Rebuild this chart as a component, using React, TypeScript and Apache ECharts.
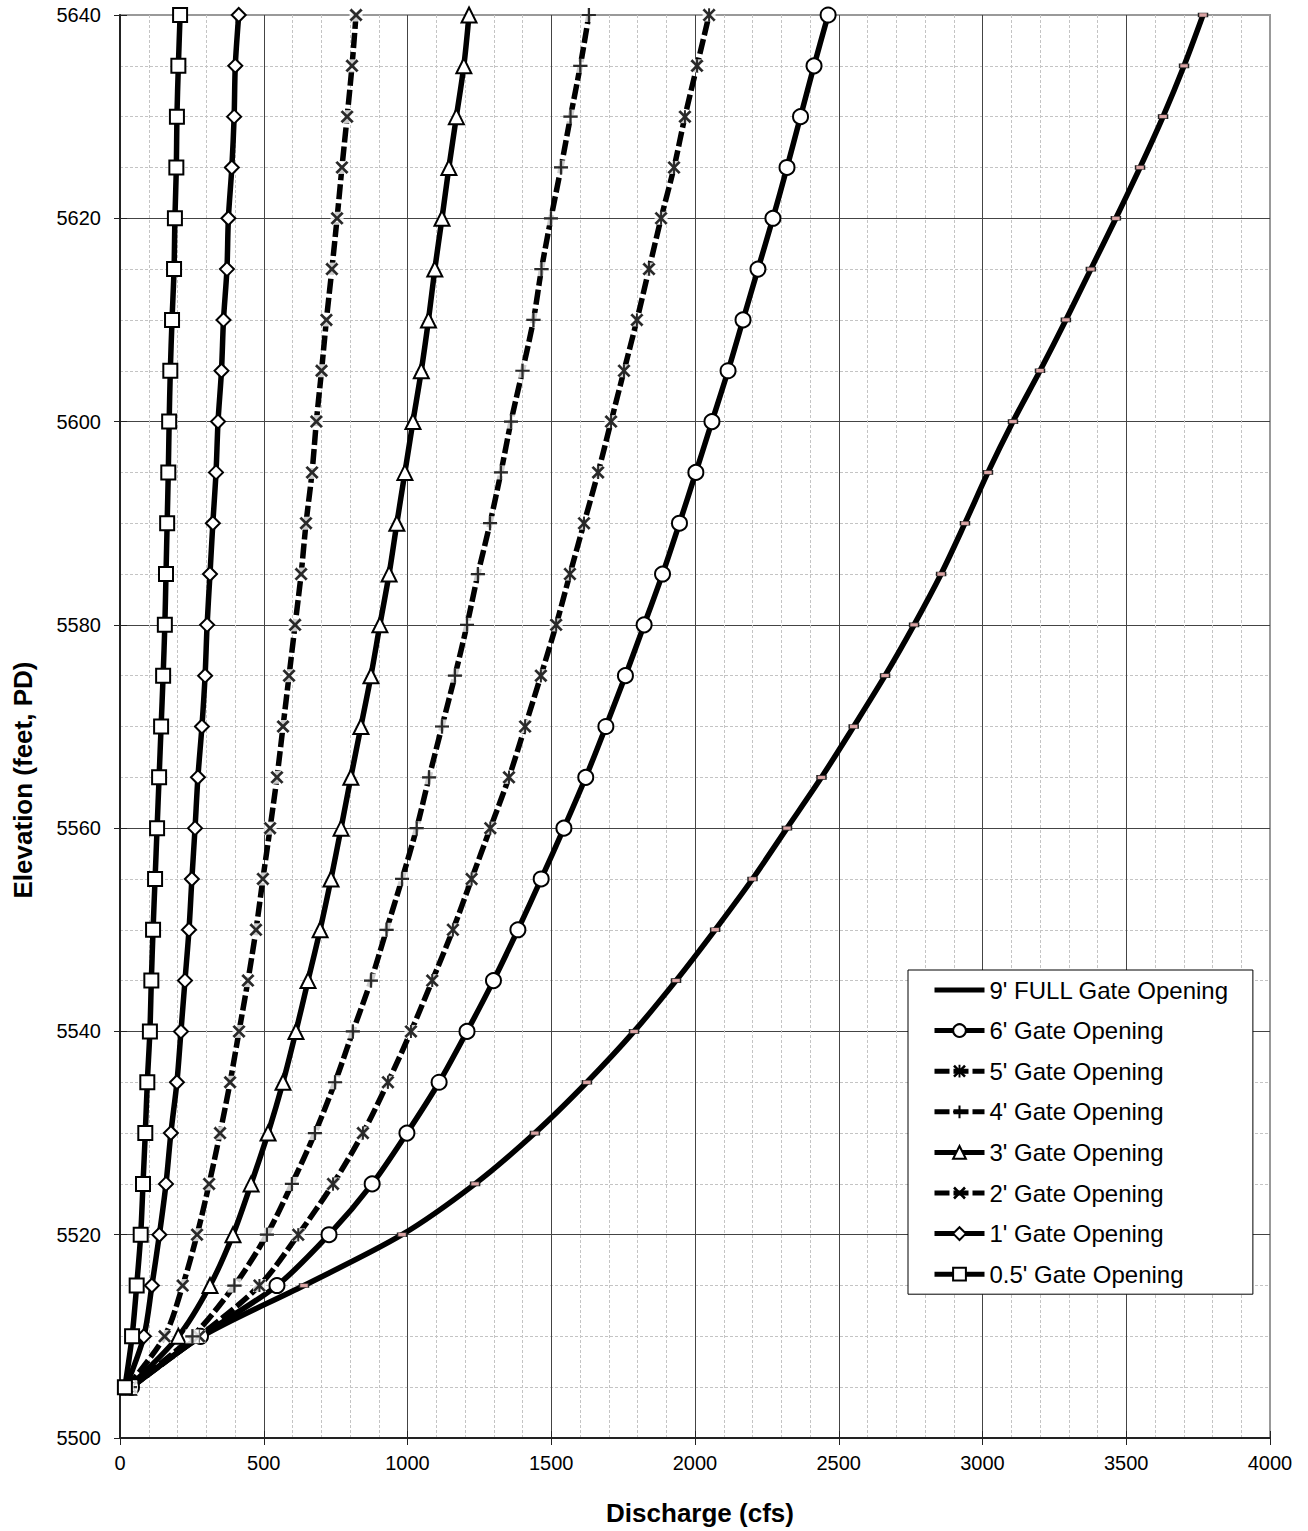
import React, { useEffect, useRef } from "react";
import * as echarts from "echarts";

// Elevation (feet, PD) for each reading
const ELEV = [5505, 5510, 5515, 5520, 5525, 5530, 5535, 5540, 5545, 5550, 5555, 5560, 5565, 5570, 5575, 5580, 5585, 5590, 5595, 5600, 5605, 5610, 5615, 5620, 5625, 5630, 5635, 5640];

// Discharge (cfs) per gate opening, matching ELEV
const Q_9FT = [40, 285, 640, 981, 1235, 1443, 1624, 1788, 1934, 2070, 2200, 2320, 2440, 2552, 2661, 2762, 2856, 2939, 3019, 3106, 3200, 3290, 3377, 3464, 3548, 3628, 3701, 3767];
const Q_6FT = [40, 280, 546, 727, 877, 998, 1110, 1207, 1299, 1384, 1465, 1544, 1620, 1690, 1758, 1823, 1887, 1946, 2003, 2059, 2115, 2167, 2219, 2271, 2320, 2367, 2414, 2463];
const Q_5FT = [38, 275, 485, 620, 741, 845, 932, 1012, 1086, 1158, 1223, 1288, 1353, 1409, 1464, 1517, 1565, 1614, 1663, 1708, 1753, 1798, 1840, 1882, 1927, 1965, 2007, 2049];
const Q_4FT = [35, 252, 398, 511, 598, 678, 748, 810, 873, 927, 981, 1032, 1075, 1120, 1165, 1207, 1245, 1287, 1325, 1360, 1400, 1438, 1466, 1499, 1534, 1567, 1601, 1631];
const Q_3FT = [30, 203, 313, 393, 456, 515, 567, 612, 654, 696, 734, 769, 803, 838, 873, 904, 936, 963, 991, 1019, 1048, 1073, 1095, 1120, 1144, 1170, 1196, 1214];
const Q_2FT = [25, 155, 218, 268, 310, 348, 383, 414, 445, 473, 497, 522, 546, 567, 588, 609, 630, 647, 668, 683, 701, 718, 737, 755, 772, 790, 807, 821];
const Q_1FT = [20, 83, 111, 137, 160, 177, 198, 212, 226, 240, 250, 261, 271, 285, 296, 303, 313, 323, 334, 341, 353, 360, 372, 377, 389, 397, 401, 413];
const Q_05FT = [17, 42, 58, 72, 80, 88, 95, 104, 109, 115, 122, 129, 136, 143, 150, 156, 160, 164, 168, 171, 175, 181, 188, 191, 196, 198, 203, 209];

const SERIES_NAMES = [
  "9' FULL Gate Opening",
  "6' Gate Opening",
  "5' Gate Opening",
  "4' Gate Opening",
  "3' Gate Opening",
  "2' Gate Opening",
  "1' Gate Opening",
  "0.5' Gate Opening",
];

const X_MAX = 4000;
const Y_MIN = 5500;
const Y_MAX = 5640;

const FONT = '"Liberation Sans", Arial, Helvetica, sans-serif';

const X_PATH =
  "path://M0,2.9L2.9,0L10,7.1L17.1,0L20,2.9L12.9,10L20,17.1L17.1,20L10,12.9L2.9,20L0,17.1L7.1,10Z";
const PLUS_PATH =
  "path://M8.4,0L11.6,0L11.6,8.4L20,8.4L20,11.6L11.6,11.6L11.6,20L8.4,20L8.4,11.6L0,11.6L0,8.4L8.4,8.4Z";
const STAR_PATH =
  "path://M0,2.8L2.8,0L10,7.2L17.2,0L20,2.8L12.8,10L20,17.2L17.2,20L10,12.8L2.8,20L0,17.2L7.2,10Z M8.5,0L11.5,0L11.5,20L8.5,20Z";

function pairs(q: number[]) {
  return q.map((v, i) => [v, ELEV[i]]);
}

const openStyle = { color: "#fff", borderColor: "#000", borderWidth: 2 };
const solidStyle = { color: "#000", borderWidth: 0 };

function mk(name: string, q: number[], symbol: any, size: any, dashed: boolean, itemStyle: any, z = 2) {
  return {
    type: "line",
    name,
    z,
    data: pairs(q),
    symbol,
    symbolSize: size,
    showAllSymbol: true,
    smooth: 0.3,
    clip: false,
    lineStyle: { color: "#000", width: 5.5, type: dashed ? [15, 4] : "solid" },
    itemStyle,
    emphasis: { disabled: true },
  };
}

// white marker background + black glyph drawn over a line's own markers (Excel-style)
function halo(q: number[], symbol: string, size: number) {
  return [
    {
      type: "scatter",
      z: 3,
      data: pairs(q),
      symbol: "rect",
      symbolSize: size,
      clip: false,
      silent: true,
      itemStyle: { color: "#fff", borderWidth: 0 },
      emphasis: { disabled: true },
    },
    {
      type: "scatter",
      z: 3,
      data: pairs(q),
      symbol,
      symbolSize: size,
      clip: false,
      silent: true,
      itemStyle: { color: "#000", borderWidth: 0 },
      emphasis: { disabled: true },
    },
  ];
}

export default function App() {
  const ref = useRef<HTMLDivElement>(null);

  useEffect(() => {
    document.body.style.margin = "0";
    if (!ref.current) return;
    const chart = echarts.init(ref.current, null, { renderer: "svg" });

    const series = [
      mk(SERIES_NAMES[0], Q_9FT, "rect", [9, 4], false, { color: "#d9a3a3", borderColor: "#222", borderWidth: 1 }),
      mk(SERIES_NAMES[1], Q_6FT, "circle", 15, false, openStyle),
      mk(SERIES_NAMES[2], Q_5FT, STAR_PATH, 13, true, solidStyle),
      ...halo(Q_5FT, STAR_PATH, 13),
      mk(SERIES_NAMES[3], Q_4FT, PLUS_PATH, 14, true, solidStyle),
      ...halo(Q_4FT, PLUS_PATH, 14),
      mk(SERIES_NAMES[4], Q_3FT, "triangle", 15, false, openStyle),
      mk(SERIES_NAMES[5], Q_2FT, X_PATH, 13, true, solidStyle),
      ...halo(Q_2FT, X_PATH, 13),
      mk(SERIES_NAMES[6], Q_1FT, "diamond", 14, false, openStyle),
      mk(SERIES_NAMES[7], Q_05FT, "rect", 14, false, openStyle, 4),
    ];

    const plain = (v: number) => String(v);

    const option: any = {
      animation: false,
      backgroundColor: "#fff",
      textStyle: { fontFamily: FONT },
      grid: {
        left: 120,
        right: 38,
        top: 15,
        bottom: 93,
        show: true,
        borderColor: "#999",
        borderWidth: 2,
        backgroundColor: "#fff",
      },
      xAxis: [
        {
          type: "value",
          min: 0,
          max: X_MAX,
          interval: 500,
          position: "bottom",
          axisLine: { show: true, onZero: false, lineStyle: { color: "#222", width: 2 } },
          axisTick: { show: true, length: 7, lineStyle: { color: "#222", width: 1 } },
          axisLabel: { fontSize: 20, color: "#000", fontFamily: FONT, margin: 15, formatter: plain },
          splitLine: { show: true, showMaxLine: false, showMinLine: false, lineStyle: { color: "#444", width: 1 } },
          minorTick: { show: false, splitNumber: 5 },
          minorSplitLine: { show: true, lineStyle: { color: "#c4c4c4", width: 1, type: [3, 2] } },
        },
        {
          type: "value",
          min: 0,
          max: X_MAX,
          interval: 500,
          position: "bottom",
          axisLine: { show: false },
          axisTick: { show: true, inside: true, length: 7, lineStyle: { color: "#222", width: 1 } },
          axisLabel: { show: false },
          splitLine: { show: false },
        },
      ],
      yAxis: [
        {
          type: "value",
          min: Y_MIN,
          max: Y_MAX,
          interval: 20,
          position: "left",
          axisLine: { show: true, onZero: false, lineStyle: { color: "#222", width: 2 } },
          axisTick: { show: true, length: 6, lineStyle: { color: "#222", width: 1 } },
          axisLabel: { fontSize: 20, color: "#000", fontFamily: FONT, margin: 19, formatter: plain },
          splitLine: { show: true, showMaxLine: false, showMinLine: false, lineStyle: { color: "#444", width: 1 } },
          minorTick: { show: false, splitNumber: 4 },
          minorSplitLine: { show: true, lineStyle: { color: "#c4c4c4", width: 1, type: [3, 2] } },
        },
        {
          type: "value",
          min: Y_MIN,
          max: Y_MAX,
          interval: 20,
          position: "left",
          axisLine: { show: false },
          axisTick: { show: true, inside: true, length: 7, lineStyle: { color: "#222", width: 1 } },
          axisLabel: { show: false },
          splitLine: { show: false },
        },
      ],
      legend: {
        show: true,
        orient: "vertical",
        left: 908,
        top: 970,
        selectedMode: false,
        backgroundColor: "#fff",
        borderColor: "#000",
        borderWidth: 1,
        padding: [8, 24, 8, 24],
        itemWidth: 50,
        itemHeight: 16,
        itemGap: 16.6,
        lineStyle: { width: 5, color: "#000" },
        textStyle: { fontSize: 24, lineHeight: 24, color: "#000", fontFamily: FONT },
        data: [
          { name: SERIES_NAMES[0], icon: "path://M0,0L50,0L50,5L0,5Z", itemStyle: { color: "#000", borderWidth: 0 } },
          ...SERIES_NAMES.slice(1).map((n) => ({ name: n })),
        ],
      },
      graphic: [
        {
          type: "text",
          x: 700,
          y: 1513,
          style: {
            text: "Discharge (cfs)",
            font: `bold 26px ${FONT}`,
            fill: "#000",
            align: "center",
            verticalAlign: "middle",
            textAlign: "center",
            textVerticalAlign: "middle",
          },
        },
        {
          type: "text",
          x: 23,
          y: 780,
          rotation: Math.PI / 2,
          style: {
            text: "Elevation (feet, PD)",
            font: `bold 26px ${FONT}`,
            fill: "#000",
            align: "center",
            verticalAlign: "middle",
            textAlign: "center",
            textVerticalAlign: "middle",
          },
        },
      ],
      series,
    };

    chart.setOption(option);
    return () => chart.dispose();
  }, []);

  return <div ref={ref} style={{ width: 1308, height: 1531 }} />;
}
